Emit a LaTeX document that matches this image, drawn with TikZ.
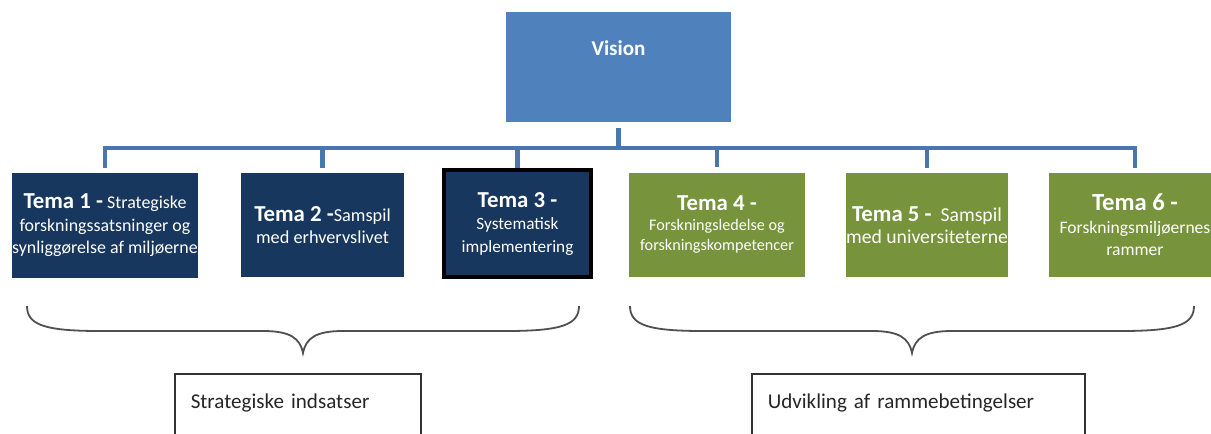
\documentclass[tikz,border=0pt]{standalone}
\usepackage{fontspec}
\setmainfont{Carlito}
\usepackage{xcolor}
\usepackage{tikz}

\definecolor{visionblue}{HTML}{4F81BD}
\definecolor{linkblue}{HTML}{4A76AE}
\definecolor{temanavy}{HTML}{17375E}
\definecolor{temagreen}{HTML}{77933C}
\definecolor{bracegray}{HTML}{505050}

\newlength{\pxu}
\setlength{\pxu}{0.02cm}
\newcommand{\visionfont}{\fontsize{12pt}{14pt}\selectfont\bfseries}
\newcommand{\temahead}{\fontsize{13pt}{15pt}\selectfont\bfseries}
\newcommand{\temaheadbig}{\fontsize{14pt}{16pt}\selectfont\bfseries}
\newcommand{\temabody}[1]{\fontsize{#1}{12.8pt}\selectfont}

\tikzset{
	tema/.style={text=white, align=center, inner sep=0pt, minimum height=104\pxu},
	navytema/.style={tema, fill=temanavy},
	greentema/.style={tema, fill=temagreen},
	link/.style={draw=linkblue, line width=4.5\pxu},
	brace/.style={draw=bracegray, line width=1.8\pxu},
	groupbox/.style={draw=black!80, line width=1.5\pxu, anchor=north west, inner ysep=0pt, inner xsep=16\pxu,
		text height=35\pxu, text depth=80\pxu, align=left, text=black!85, font=\fontsize{12pt}{14pt}\selectfont}
}

\begin{document}
\begin{tikzpicture}[x=\pxu, y=-\pxu]
	\useasboundingbox (0,0) rectangle (1211,433);
	\clip (0,0) rectangle (1211,433);
	\node[fill=visionblue, text=white, minimum width=225\pxu, inner sep=0pt, text height=43\pxu, text depth=67\pxu, font=\visionfont, anchor=north] (vision) at (618.5,12) {Vision};
	\node[navytema, minimum width=186\pxu, minimum height=105\pxu, font=\temabody{10.2pt}] (t1) at (105,225.5) {{\temahead Tema 1 -} Strategiske\\ forskningssatsninger og\\ synliggørelse af miljøerne};
	\node[navytema, minimum width=163\pxu, font=\temabody{10.4pt}] (t2) at (322.5,225) {{\temahead Tema 2 -}Samspil\\ med erhvervslivet};
	\node[navytema, draw=black, line width=4\pxu, minimum width=147\pxu, minimum height=107\pxu, font=\temabody{9.8pt}] (t3) at (517.5,223.5) {{\temahead Tema 3 -}\\ Systematisk\\ implementering};
	\node[greentema, minimum width=176\pxu, font=\fontsize{9.2pt}{11.5pt}\selectfont] (t4) at (717,224.5) {{\temahead Tema 4 -}\\ Forskningsledelse og\\ forskningskompetencer};
	\node[greentema, minimum width=160\pxu, font=\temabody{11.2pt}] (t5) at (927,225) {{\temahead Tema 5 -}\ \ Samspil\\ med universiteterne};
	\node[greentema, minimum width=172\pxu, font=\temabody{10pt}] (t6) at (1135,225) {{\temaheadbig Tema 6 -}\\ Forskningsmiljøernes\\ rammer};
	\coordinate (bus) at (617,148);
	\draw[link, shorten <=5\pxu] (vision.south) -- (vision.south |- bus);
	\draw[link, shorten <=5\pxu, shorten >=5\pxu] (t1.north) -- (t1.north |- bus) -- (t6.north |- bus) -- (t6.north);
	\foreach \t in {t2,t4,t5}
		\draw[link, shorten >=5\pxu] (\t.north |- bus) -- (\t.north);
	\draw[link] (t3.north |- bus) -- (t3.north);
	% braces
	\draw[brace] (27,306) .. controls (27,325) and (45,331) .. (100,331) -- (263,331) .. controls (290,331) and (300,338) .. (303,353) .. controls (306,338) and (316,331) .. (343,331) -- (506,331) .. controls (561,331) and (579,325) .. (579,306);
	\draw[brace] (630,306) .. controls (630,325) and (648,331) .. (703,331) -- (872,331) .. controls (899,331) and (909,338) .. (912,353) .. controls (915,338) and (925,331) .. (952,331) -- (1121,331) .. controls (1176,331) and (1194,325) .. (1194,306);
	\node[groupbox, text width=214\pxu] (strat) at (174,373) {Strategiske indsatser};
	\node[groupbox, text width=301\pxu] (udv) at (751,373) {Udvikling af rammebetingelser};
\end{tikzpicture}
\end{document}
